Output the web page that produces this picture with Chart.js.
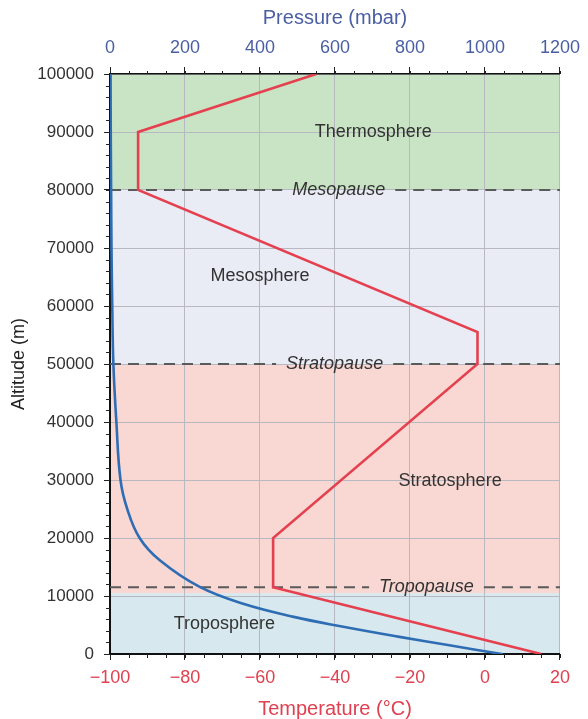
<!DOCTYPE html>
<html>
<head>
<meta charset="utf-8">
<script src="https://cdn.jsdelivr.net/npm/chart.js@4.4.1/dist/chart.umd.min.js"></script>
<style>
  body { margin: 0; background: #fff; }
  canvas { display: block; }
</style>
</head>
<body>
<canvas id="atmo" width="588" height="719"></canvas>
<script>
// temperature profile (red)
const tempAlt = [0, 11500, 20000, 50000, 55500, 80000, 90000, 100000];
const tempC = [15, -56.5, -56.5, -2, -2, -92.5, -92.5, -45];

// pressure profile (blue)
const pressAlt = [0, 1500, 3000, 4700, 6400, 8700, 11600, 16200, 20000, 25000, 30000, 40000, 50000, 60000, 70000, 80000, 90000, 100000];
const pressMbar = [1045, 905, 768, 622, 490, 353, 238, 132, 79, 46, 28, 17, 9, 6, 4, 3, 2, 1.5];

// layers: bottom, top, colour
const layerFrom = [0, 10500, 50000, 80000];
const layerTo = [10500, 50000, 80000, 100000];
const layerColor = ['#d7e9ee', '#f9d7d2', '#e9ebf5', '#c9e3c5'];

// layer names and where they sit (temperature, altitude)
const layerNames = ['Troposphere', 'Stratosphere', 'Mesosphere', 'Thermosphere'];
const layerNameT = [-69.5, -9.3, -60, -29.8];
const layerNameAlt = [5200, 29900, 65200, 90000];

// boundary lines
const pauseNames = ['Tropopause', 'Stratopause', 'Mesopause'];
const pauseAlt = [11500, 50000, 80000];
const pauseT = [-15.6, -40.1, -39];

const FONT = '"Liberation Sans", Arial, Helvetica, sans-serif';

const xy = (xs, ys) => xs.map((v, i) => ({ x: v, y: ys[i] }));

// bands + dashed boundaries with their labels
const layersPlugin = {
    id: 'layers',
    beforeDraw(chart) {
        const { ctx, chartArea: a, scales } = chart;
        ctx.save();
        for (let i = 0; i < layerFrom.length; i++) {
            const y1 = scales.y.getPixelForValue(layerTo[i]);
            const y2 = scales.y.getPixelForValue(layerFrom[i]);
            ctx.fillStyle = layerColor[i];
            ctx.fillRect(a.left, y1, a.right - a.left, y2 - y1);
        }
        ctx.restore();
    },
    beforeDatasetsDraw(chart) {
        const { ctx, chartArea: a, scales } = chart;
        ctx.save();
        ctx.textAlign = 'center';
        ctx.textBaseline = 'middle';
        ctx.fillStyle = '#333';
        ctx.font = '18px ' + FONT;
        layerNames.forEach((name, i) => {
            ctx.fillText(name, scales.x.getPixelForValue(layerNameT[i]), scales.y.getPixelForValue(layerNameAlt[i]));
        });
        ctx.font = 'italic 18px ' + FONT;
        pauseNames.forEach((name, i) => {
            const y = scales.y.getPixelForValue(pauseAlt[i]);
            const cx = scales.x.getPixelForValue(pauseT[i]);
            const half = ctx.measureText(name).width / 2 + 10;
            ctx.strokeStyle = '#5a5a5a';
            ctx.lineWidth = 2;
            ctx.setLineDash([11, 7]);
            ctx.beginPath();
            ctx.moveTo(a.left, y);
            ctx.lineTo(cx - half, y);
            ctx.stroke();
            ctx.beginPath();
            ctx.moveTo(cx + half, y);
            ctx.lineTo(a.right, y);
            ctx.stroke();
            ctx.setLineDash([]);
            ctx.fillText(name, cx, y);
        });
        ctx.restore();
    },
    afterDraw(chart) {
        // minor ticks
        const { ctx, chartArea: a, scales } = chart;
        ctx.save();
        ctx.strokeStyle = '#222';
        ctx.lineWidth = 1;
        ctx.beginPath();
        for (let v = -100; v <= 20; v += 5) {
            const px = Math.round(scales.x.getPixelForValue(v)) + 0.5;
            ctx.moveTo(px, a.bottom);
            ctx.lineTo(px, a.bottom + 4);
        }
        for (let v = 0; v <= 1200; v += 50) {
            const px = Math.round(scales.x2.getPixelForValue(v)) + 0.5;
            ctx.moveTo(px, a.top);
            ctx.lineTo(px, a.top - 3);
        }
        for (let v = 0; v <= 100000; v += 2000) {
            const py = Math.round(scales.y.getPixelForValue(v)) + 0.5;
            ctx.moveTo(a.left, py);
            ctx.lineTo(a.left - 4, py);
        }
        ctx.stroke();
        ctx.restore();
    }
};

const ctx = document.getElementById('atmo').getContext('2d');
const chart = new Chart(ctx, {
    type: 'scatter',
    data: {
        datasets: [{
            label: 'Temperature',
            data: xy(tempC, tempAlt),
            xAxisID: 'x',
            showLine: true,
            borderColor: '#e5404f',
            borderWidth: 2.6,
            pointRadius: 0,
            tension: 0
        }, {
            label: 'Pressure',
            data: xy(pressMbar, pressAlt),
            xAxisID: 'x2',
            showLine: true,
            borderColor: '#2e6db4',
            borderWidth: 2.6,
            borderCapStyle: 'round',
            pointRadius: 0,
            tension: 0.4
        }]
    },
    options: {
        responsive: false,
        animation: false,
        layout: { padding: { left: 0, right: 22, top: 0, bottom: 0 } },
        plugins: {
            legend: { display: false },
            tooltip: { enabled: false }
        },
        scales: {
            x: {
                type: 'linear',
                position: 'bottom',
                min: -100,
                max: 20,
                afterFit: s => { s.height = 65; },
                ticks: {
                    stepSize: 20,
                    color: '#e0404f',
                    padding: 7,
                    font: { family: FONT, size: 18 },
                    callback: v => v < 0 ? '\u2212' + Math.abs(v) : String(v)
                },
                grid: { color: '#b8b8c0', lineWidth: 1, tickColor: '#222', tickLength: 6 },
                border: { color: '#111', width: 2 },
                title: {
                    display: true,
                    text: 'Temperature (°C)',
                    color: '#e0404f',
                    font: { family: FONT, size: 20 },
                    padding: { top: 0, bottom: -2 }
                }
            },
            x2: {
                type: 'linear',
                position: 'top',
                min: 0,
                max: 1200,
                afterFit: s => { s.height = 74; },
                ticks: {
                    stepSize: 200,
                    color: '#4a5fa3',
                    padding: 8,
                    font: { family: FONT, size: 18 },
                    callback: v => String(v)
                },
                grid: { drawOnChartArea: false, tickColor: '#222', tickLength: 7 },
                border: { color: '#111', width: 1.5 },
                title: {
                    display: true,
                    text: 'Pressure (mbar)',
                    color: '#4a5fa3',
                    font: { family: FONT, size: 20 },
                    padding: { top: 6, bottom: 0 }
                }
            },
            y: {
                type: 'linear',
                position: 'left',
                min: 0,
                max: 100000,
                afterFit: s => { s.width = 110; },
                ticks: {
                    stepSize: 10000,
                    color: '#333',
                    padding: 10,
                    font: { family: FONT, size: 17 },
                    callback: v => String(v)
                },
                grid: { color: '#b8b8c0', lineWidth: 1, tickColor: '#222', tickLength: 6 },
                border: { color: '#111', width: 2 },
                title: {
                    display: true,
                    text: 'Altitude (m)',
                    color: '#222',
                    font: { family: FONT, size: 18 },
                    padding: { top: 8, bottom: 0 }
                }
            }
        }
    },
    plugins: [layersPlugin]
});
</script>
</body>
</html>
